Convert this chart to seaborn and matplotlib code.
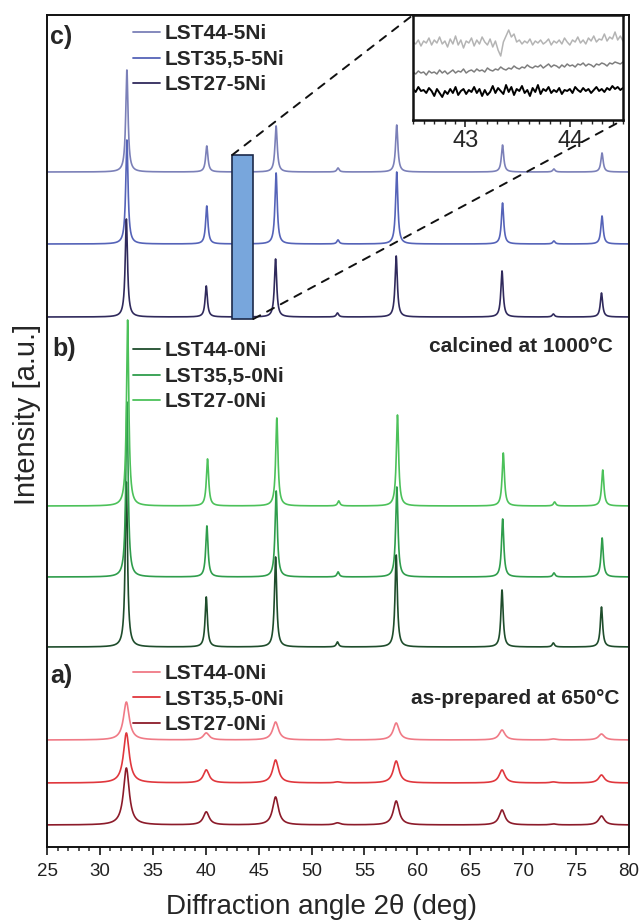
import numpy as np
import pandas as pd
import seaborn as sns
import matplotlib
matplotlib.use("Agg")
import matplotlib.pyplot as plt
from matplotlib.lines import Line2D
from matplotlib.patches import Rectangle, ConnectionPatch

sns.set_style("ticks")
plt.rcParams['font.family'] = ['Liberation Sans', 'DejaVu Sans']

# peak positions (deg 2theta) shared by all patterns
peak_pos = [32.5, 40.05, 46.6, 52.45, 58.0, 68.0, 72.85, 77.4]

# c) calcined, 5 % Ni  (heights in arbitrary units)
c_names = ['LST44-5Ni', 'LST35,5-5Ni', 'LST27-5Ni']
c_heights = {
    'LST44-5Ni':   [102, 26, 46, 4, 47, 27, 3, 19],
    'LST35,5-5Ni': [104, 38, 71, 4, 72, 41, 3, 28],
    'LST27-5Ni':   [98, 31, 58, 4, 61, 46, 3, 24],
}
c_shift = [0.05, 0.05, 0.0]
c_offset = [675, 603, 530]

# b) calcined at 1000 C, 0 % Ni
b_names = ['LST44-0Ni', 'LST35,5-0Ni', 'LST27-0Ni']
b_heights = {
    'LST44-0Ni':   [165, 50, 90, 5, 92, 57, 4, 40],
    'LST35,5-0Ni': [175, 51, 86, 5, 90, 58, 4, 39],
    'LST27-0Ni':   [186, 47, 88, 5, 91, 53, 4, 36],
}
b_shift = [0.0, 0.06, 0.12]
b_offset = [200, 270, 341]

# a) as-prepared at 650 C
a_names = ['LST44-0Ni', 'LST35,5-0Ni', 'LST27-0Ni']
a_heights = {
    'LST44-0Ni':   [38, 7, 18, 1, 17, 10, 1, 6],
    'LST35,5-0Ni': [50, 13, 23, 1, 22, 13, 1, 8],
    'LST27-0Ni':   [57, 13, 28, 2, 24, 15, 1, 9],
}
a_offset = [107, 64, 22]

# inset: zoom 42.5-44.5 deg of panel c (noise level only)
inset_top = [78, 76, 80, 74, 79, 77, 82, 75, 80, 77, 83, 76, 79, 73, 81, 76, 84, 75, 80, 72,
             79, 77, 82, 74, 80, 76, 83, 78, 75, 81, 73, 79, 70, 64, 78, 84, 90, 83, 86, 78,
             80, 76, 79, 77, 81, 75, 79, 77, 80, 76, 78, 81, 75, 79, 77, 80, 76, 82, 78, 75,
             80, 78, 83, 77, 80, 76, 82, 79, 84, 78, 81, 80, 86, 79, 83, 81, 88, 80, 84, 79]
inset_mid = [48, 46, 49, 47, 48, 45, 49, 47, 48, 46, 50, 47, 49, 46, 48, 50, 47, 49, 48, 51,
             47, 49, 50, 48, 51, 49, 50, 48, 52, 50, 49, 51, 50, 53, 51, 50, 52, 51, 54, 52,
             51, 53, 52, 55, 53, 52, 54, 53, 55, 52, 54, 56, 53, 55, 54, 52, 55, 53, 56, 54,
             55, 53, 56, 55, 57, 54, 56, 55, 53, 56, 55, 57, 56, 54, 57, 56, 58, 57, 56, 58]
inset_bot = [31, 28, 33, 29, 30, 27, 32, 29, 24, 31, 27, 23, 29, 26, 31, 27, 33, 25, 29, 31,
             26, 30, 28, 33, 27, 31, 24, 30, 25, 28, 34, 27, 32, 29, 26, 35, 28, 33, 25, 31,
             29, 34, 27, 30, 24, 32, 28, 35, 26, 31, 29, 33, 27, 30, 28, 32, 26, 30, 29, 31,
             27, 33, 30, 28, 32, 29, 31, 27, 30, 33, 29, 31, 28, 32, 30, 34, 31, 33, 30, 32]

c_colors = ['#7b80b8', '#5563b8', '#302a5c']
b_colors = ['#1f4d2c', '#2f9d4c', '#4cc15a']
a_colors = ['#f07a86', '#e0373d', '#8c1b2a']
inset_colors = ['#b4b4b4', '#7e7e7e', '#000000']

x = np.linspace(25, 80, 5501)


def pattern(heights, shift, hwhm):
    y = np.zeros_like(x)
    for p, h in zip(peak_pos, heights):
        y += h / (1 + ((x - p - shift) / hwhm) ** 2)
    return y


fig = plt.figure(figsize=(6.4, 9.24), dpi=100)
ax = fig.add_axes([47 / 640, 77 / 924, 582 / 640, 832 / 924])

for names, heights, shifts, offsets, colors, hw in [
        (c_names, c_heights, c_shift, c_offset, c_colors, 0.13),
        (b_names, b_heights, b_shift, b_offset, b_colors, 0.13),
        (a_names, a_heights, [0, 0, 0], a_offset, a_colors, 0.33)]:
    for n, s, off, col in zip(names, shifts, offsets, colors):
        df = pd.DataFrame({'angle': x, 'I': off + pattern(heights[n], s, hw)})
        sns.lineplot(data=df, x='angle', y='I', color=col, lw=1.2, ax=ax,
                     estimator=None, sort=False, legend=False)

ax.set_xlim(25, 80)
ax.set_ylim(0, 832)
ax.set_yticks([])
ax.set_xticks(np.arange(25, 81, 5))
ax.set_xticks(np.arange(25, 81, 1), minor=True)
ax.tick_params(axis='x', which='major', length=6, width=1.3, labelsize=13.5, pad=5.5,
               labelcolor='#222222', direction='out')
ax.tick_params(axis='x', which='minor', length=3, width=1.1, direction='out')
for sp in ax.spines.values():
    sp.set_linewidth(1.4)
    sp.set_color('#111111')
ax.set_xlabel('Diffraction angle 2θ (deg)', fontsize=20)
ax.xaxis.set_label_coords(0.471, -0.057)
ax.set_ylabel('Intensity [a.u.]', fontsize=21)
ax.yaxis.set_label_coords(-0.01, 0.52)

# zoom box
rect = Rectangle((42.5, 528), 2.0, 164, facecolor='#78a6dc', edgecolor='#1c2a4a',
                 lw=1.2, zorder=5)
ax.add_patch(rect)

# legends
prop = dict(weight='bold', size=15)
legs = []
for names, colors, anchor in [(c_names, c_colors, 0.989),
                              (b_names, b_colors, 0.608),
                              (a_names, a_colors, 0.220)]:
    handles = [Line2D([], [], color=c, lw=1.3) for c in colors]
    leg = ax.legend(handles, names, loc='upper left', bbox_to_anchor=(0.148, anchor),
                    frameon=False, prop=prop, handlelength=1.3, handletextpad=0.2,
                    labelspacing=0.32, borderpad=0, borderaxespad=0)
    legs.append(leg)
for leg in legs[:-1]:
    ax.add_artist(leg)

ax.text(0.005, 0.974, 'c)', transform=ax.transAxes, fontsize=18, weight='bold', va='center')
ax.text(0.009, 0.598, 'b)', transform=ax.transAxes, fontsize=18, weight='bold', va='center')
ax.text(0.006, 0.206, 'a)', transform=ax.transAxes, fontsize=18, weight='bold', va='center')
ax.text(0.9725, 0.601, 'calcined at 1000°C', transform=ax.transAxes, fontsize=15,
        weight='bold', ha='right', va='center')
ax.text(0.9845, 0.178, 'as-prepared at 650°C', transform=ax.transAxes, fontsize=15,
        weight='bold', ha='right', va='center')

# inset
ins = fig.add_axes([413 / 640, 804 / 924, 210 / 640, 105 / 924])
xi = np.linspace(42.5, 44.5, len(inset_top))
for vals, col, lw in zip([inset_top, inset_mid, inset_bot], inset_colors, [1.1, 1.1, 1.4]):
    sns.lineplot(x=xi, y=vals, color=col, lw=lw, ax=ins, estimator=None, sort=False)
ins.set_xlim(42.5, 44.5)
ins.set_ylim(0, 105)
ins.set_yticks([])
ins.set_xticks([43, 44])
ins.set_xticks(np.arange(42.5, 44.51, 0.1), minor=True)
ins.tick_params(axis='x', which='major', length=5, width=1.2, labelsize=17, pad=2,
                direction='out')
ins.tick_params(axis='x', which='minor', length=3, width=1.0, direction='out')
for sp in ins.spines.values():
    sp.set_linewidth(1.8)
    sp.set_color('#111111')
ins.set_xlabel('')
ins.set_ylabel('')

for xyA, xyB in [((42.5, 692), (0, 1)), ((44.5, 528), (1, 0))]:
    con = ConnectionPatch(xyA=xyA, coordsA=ax.transData, xyB=xyB, coordsB=ins.transAxes,
                          linestyle=(0, (4, 4)), color='#111111', lw=1.4, zorder=6)
    fig.add_artist(con)

fig.savefig('out.png', dpi=100)
